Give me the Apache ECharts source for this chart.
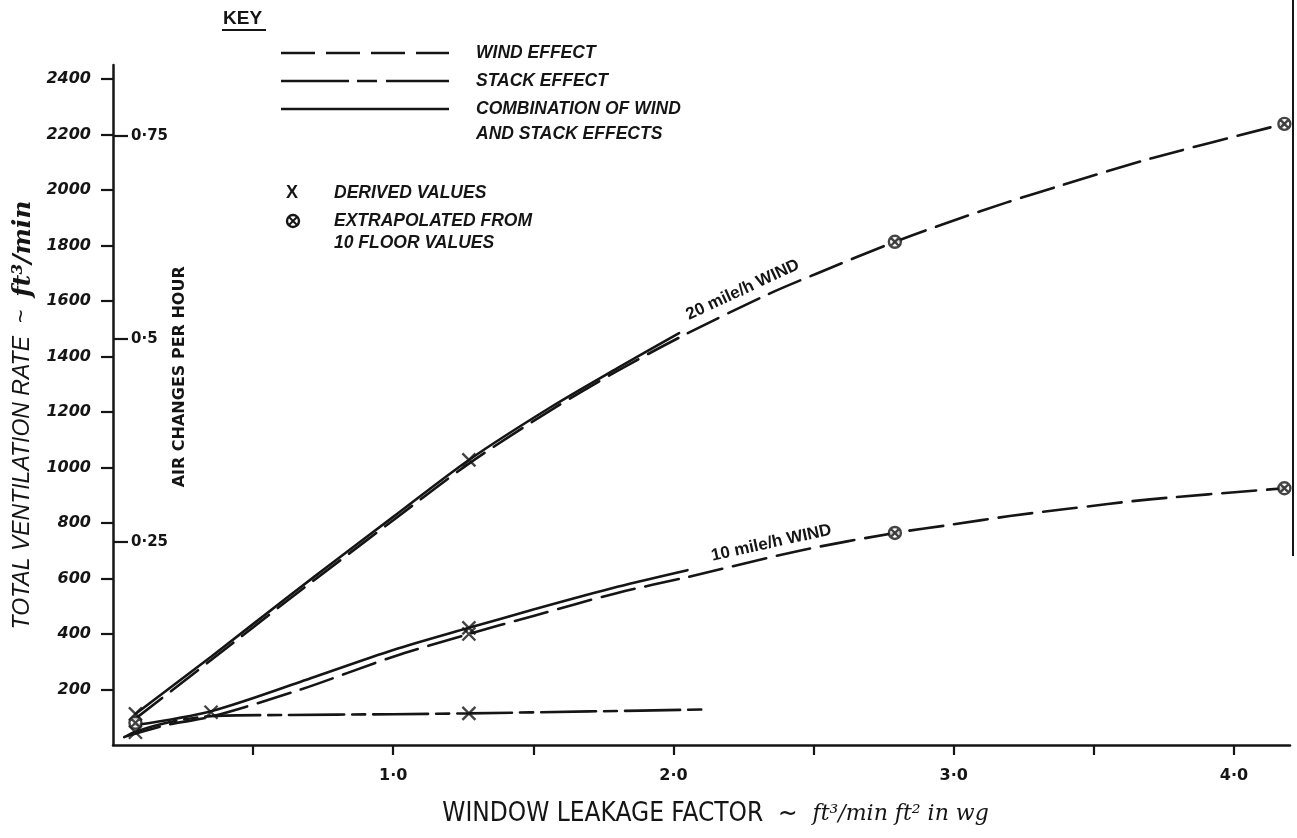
<!DOCTYPE html>
<html>
<head>
<meta charset="utf-8">
<script src="https://cdn.jsdelivr.net/npm/echarts@6/dist/echarts.min.js"></script>
<style>
  html, body { margin: 0; padding: 0; background: #fff; }
  #chart { width: 1297px; height: 838px; }
</style>
</head>
<body>
<div id="chart"></div>
<script>
// Window leakage factor (ft³/min ft² in wg) against total ventilation rate (ft³/min)

// 20 mile/h wind effect
const wind20X = [0.08, 0.35, 0.64, 0.80, 1.00, 1.27, 1.56, 1.80, 2.04, 2.34, 2.51, 2.79, 3.00, 3.19, 3.38, 3.71, 4.18];
const wind20Y = [95, 306, 534, 657, 810, 1014, 1205, 1348, 1478, 1625, 1698, 1813, 1890, 1955, 2015, 2115, 2238];
// 20 mile/h wind combined with stack effect
const combo20X = [0.08, 0.35, 0.64, 0.80, 1.00, 1.27, 1.56, 1.80, 2.02];
const combo20Y = [112, 318, 546, 669, 822, 1027, 1216, 1358, 1484];
// 10 mile/h wind effect
const wind10X = [0.05, 0.19, 0.35, 0.67, 1.00, 1.27, 1.50, 1.80, 2.05, 2.45, 2.79, 3.00, 3.20, 3.40, 3.70, 4.18];
const wind10Y = [32, 72, 102, 200, 318, 400, 465, 548, 605, 700, 764, 795, 825, 850, 885, 925];
// 10 mile/h wind combined with stack effect
const combo10X = [0.08, 0.35, 0.67, 1.00, 1.27, 1.50, 1.80, 2.05];
const combo10Y = [72, 122, 228, 342, 422, 488, 570, 630];
// stack effect alone
const stackX = [0.04, 0.08, 0.20, 0.35, 0.60, 1.00, 1.27, 1.70, 2.12];
const stackY = [28, 48, 82, 104, 108, 111, 114, 121, 128];
// derived values (X) and values extrapolated from 10 floor values (circled cross)
const derivedX = [0.08, 0.08, 0.35, 1.27, 1.27, 1.27, 1.27];
const derivedY = [112, 46, 118, 1027, 422, 400, 114];
const extrapX = [0.08, 2.79, 2.79, 4.18, 4.18];
const extrapY = [80, 1813, 764, 2238, 925];

// axis ticks
const xTickValues = [0.5, 1, 1.5, 2, 2.5, 3, 3.5, 4];
const xLabelValues = [1, 2, 3, 4];
const yTickValues = [200, 400, 600, 800, 1000, 1200, 1400, 1600, 1800, 2000, 2200, 2400];
const achTickValues = [0.25, 0.5, 0.75];
const ACH_RATE = 2927;   // ft³/min corresponding to one air change per hour
const X_MAX = 4.2;
const Y_MAX = 2450;

const INK = '#151515';
const pairs = (xs, ys) => xs.map((x, i) => [x, ys[i]]);
const dot = v => String(v).replace('.', '\u00b7');

const WIND_DASH = [34, 11];
const STACK_DASH = [55, 8, 13, 8];

const X_SYMBOL = 'path://M0,0L20,20M20,0L0,20';
const OX_SYMBOL = 'path://M10,0A10,10,0,1,1,10,20A10,10,0,1,1,10,0ZM3,3L17,17M17,3L3,17';

function curve(name, data, dash) {
  return {
    name, type: 'line', data, smooth: 0.3, showSymbol: false, silent: true,
    lineStyle: { color: INK, width: 2.6, type: dash || 'solid', cap: 'round' },
    z: 3
  };
}

const chart = echarts.init(document.getElementById('chart'), null, { renderer: 'canvas' });

chart.setOption({
  backgroundColor: '#ffffff',
  animation: false,
  grid: { left: 113, right: 7, top: 65, bottom: 93, containLabel: false, outerBoundsMode: 'none' },
  xAxis: {
    type: 'value', min: 0, max: X_MAX,
    axisLine: { lineStyle: { color: INK, width: 2.5 } },
    axisTick: { show: true, length: 10, customValues: xTickValues, lineStyle: { color: INK, width: 2.2 } },
    axisLabel: {
      customValues: xLabelValues, margin: 23,
      formatter: v => dot(Number(v).toFixed(1)),
      color: INK, fontFamily: 'DejaVu Sans', fontWeight: 'bold', fontSize: 16
    },
    splitLine: { show: false },
    name: '{a|WINDOW LEAKAGE FACTOR  ~  }{b|ft³/min ft² in wg}',
    nameLocation: 'middle', nameGap: 56,
    nameTextStyle: {
      padding: [0, 0, 0, 28],
      rich: {
        a: { fontFamily: "'DejaVu Sans Condensed', 'Liberation Sans Narrow', 'Liberation Sans'", fontSize: 26, color: INK },
        b: { fontFamily: "'DejaVu Serif', serif", fontStyle: 'italic', fontSize: 22, color: INK }
      }
    }
  },
  yAxis: [
    {
      type: 'value', min: 0, max: Y_MAX, position: 'left',
      axisLine: { show: true, lineStyle: { color: INK, width: 2.5 } },
      axisTick: { show: true, length: 12, customValues: yTickValues, lineStyle: { color: INK, width: 2.2 } },
      axisLabel: {
        customValues: yTickValues, margin: 22, formatter: v => String(v),
        color: INK, fontFamily: 'DejaVu Sans', fontWeight: 'bold', fontStyle: 'italic', fontSize: 16
      },
      splitLine: { show: false },
      name: '{a|TOTAL VENTILATION RATE  ~  }{b|ft³/min}',
      nameLocation: 'middle', nameGap: 76,
      nameTextStyle: {
        padding: [0, 20, 0, 0],
        rich: {
          a: { fontFamily: 'Liberation Sans', fontStyle: 'italic', fontSize: 23, color: INK },
          b: { fontFamily: "'DejaVu Serif', serif", fontStyle: 'italic', fontWeight: 'bold', fontSize: 25, color: INK }
        }
      }
    },
    {
      type: 'value', min: 0, max: Y_MAX / ACH_RATE, position: 'left',
      axisLine: { show: false },
      axisTick: { show: true, inside: true, length: 15, customValues: achTickValues, lineStyle: { color: INK, width: 2.2 } },
      axisLabel: {
        inside: true, margin: 18, customValues: achTickValues, formatter: v => dot(v),
        color: INK, fontFamily: 'DejaVu Sans', fontWeight: 'bold', fontSize: 15
      },
      splitLine: { show: false }
    }
  ],
  series: [
    curve('20 mile/h wind effect', pairs(wind20X, wind20Y), WIND_DASH),
    curve('20 mile/h combined', pairs(combo20X, combo20Y)),
    curve('10 mile/h wind effect', pairs(wind10X, wind10Y), WIND_DASH),
    curve('10 mile/h combined', pairs(combo10X, combo10Y)),
    curve('Stack effect', pairs(stackX, stackY), STACK_DASH),
    {
      name: 'Derived values', type: 'scatter', data: pairs(derivedX, derivedY),
      symbol: X_SYMBOL, symbolSize: 13, silent: true, z: 5,
      itemStyle: { color: 'transparent', borderColor: INK, borderWidth: 2.4 }
    },
    {
      name: 'Extrapolated from 10 floor values', type: 'scatter', data: pairs(extrapX, extrapY),
      symbol: OX_SYMBOL, symbolSize: 12, silent: true, z: 5,
      itemStyle: { color: '#fff', borderColor: INK, borderWidth: 2.4 }
    }
  ]
});

// Key block (legend) in the upper left
const keyFont = "italic bold 17.5px 'Liberation Sans'";
const keyText = (x, y, text) => ({
  type: 'text', x, y, silent: true,
  style: { text, font: keyFont, fill: INK, verticalAlign: 'middle' }
});
const keyLine = (y, dash) => ({
  type: 'line', silent: true,
  shape: { x1: 281, y1: y, x2: 449, y2: y },
  style: { stroke: INK, lineWidth: 2.6, lineDash: dash || null }
});

// Curve captions follow the slope of their wind curves
function interp(xs, ys, x) {
  for (let i = 1; i < xs.length; i++) {
    if (x <= xs[i]) {
      const t = (x - xs[i - 1]) / (xs[i] - xs[i - 1]);
      return ys[i - 1] + t * (ys[i] - ys[i - 1]);
    }
  }
  return ys[ys.length - 1];
}
function caption(text, xs, ys, x, lift) {
  const p = chart.convertToPixel({ gridIndex: 0 }, [x, interp(xs, ys, x)]);
  const a = chart.convertToPixel({ gridIndex: 0 }, [x - 0.25, interp(xs, ys, x - 0.25)]);
  const b = chart.convertToPixel({ gridIndex: 0 }, [x + 0.25, interp(xs, ys, x + 0.25)]);
  const theta = Math.atan2(a[1] - b[1], b[0] - a[0]);
  return {
    type: 'text', silent: true, rotation: theta,
    x: p[0] - Math.sin(theta) * lift, y: p[1] - Math.cos(theta) * lift,
    style: { text, font: "bold 17px 'Liberation Sans'", fill: INK, align: 'center', verticalAlign: 'middle' }
  };
}

// Secondary scale title, read against the air-change ticks
const achTitlePos = chart.convertToPixel({ yAxisIndex: 1 }, 0.5);

chart.setOption({
  graphic: [
    { type: 'text', x: 223, y: 19, silent: true, style: { text: 'KEY', font: "bold 19px 'Liberation Sans'", fill: INK, verticalAlign: 'middle' } },
    { type: 'line', silent: true, shape: { x1: 222, y1: 30, x2: 266, y2: 30 }, style: { stroke: INK, lineWidth: 2.2 } },
    keyLine(53, WIND_DASH),
    keyLine(81, [68, 8, 20, 9]),
    keyLine(109),
    keyText(476, 53, 'WIND EFFECT'),
    keyText(476, 81, 'STACK EFFECT'),
    keyText(476, 109, 'COMBINATION OF WIND'),
    keyText(476, 134, 'AND STACK EFFECTS'),
    { type: 'text', x: 292, y: 193, silent: true, style: { text: 'X', font: "bold 18px 'Liberation Sans'", fill: INK, align: 'center', verticalAlign: 'middle' } },
    { type: 'circle', silent: true, shape: { cx: 293, cy: 221, r: 6 }, style: { fill: '#fff', stroke: INK, lineWidth: 2.4 } },
    { type: 'line', silent: true, shape: { x1: 289, y1: 217, x2: 297, y2: 225 }, style: { stroke: INK, lineWidth: 2 } },
    { type: 'line', silent: true, shape: { x1: 297, y1: 217, x2: 289, y2: 225 }, style: { stroke: INK, lineWidth: 2 } },
    keyText(334, 193, 'DERIVED VALUES'),
    keyText(334, 221, 'EXTRAPOLATED FROM'),
    keyText(334, 243, '10 FLOOR VALUES'),
    {
      type: 'text', silent: true, rotation: Math.PI / 2, x: 180, y: achTitlePos + 38,
      style: { text: 'AIR CHANGES PER HOUR', font: "bold 16px 'DejaVu Sans'", fill: INK, align: 'center', verticalAlign: 'middle' }
    },
    // sheet edge on the right-hand side
    { type: 'line', silent: true, shape: { x1: 1293, y1: 0, x2: 1293, y2: 556 }, style: { stroke: INK, lineWidth: 2 } },
    caption('20 mile/h WIND', wind20X, wind20Y, 2.27, 15),
    caption('10 mile/h WIND', wind10X, wind10Y, 2.36, 14)
  ]
});
</script>
</body>
</html>
